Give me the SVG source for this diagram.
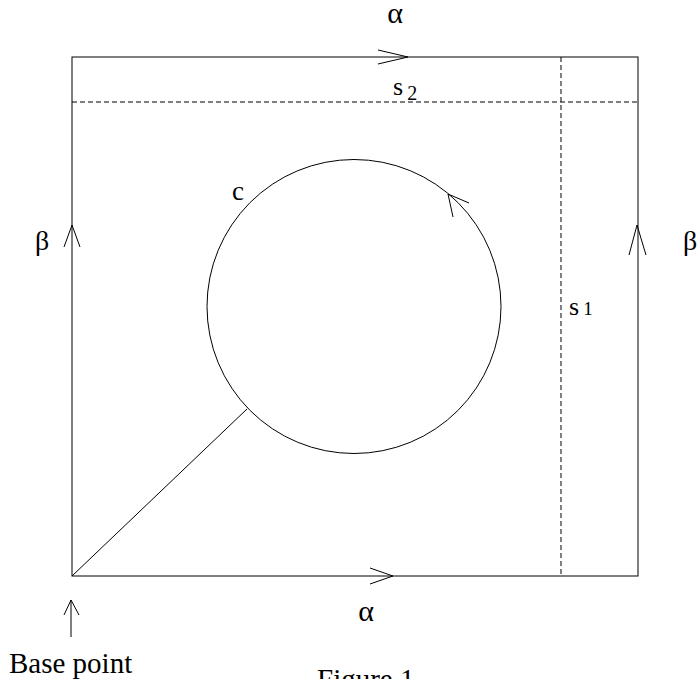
<svg xmlns="http://www.w3.org/2000/svg" width="699" height="679" viewBox="0 0 699 679">
<style>
.ln{fill:none;stroke:#000;stroke-width:1}
.ds{fill:none;stroke:#000;stroke-width:1;stroke-dasharray:5 3}
.t{font-family:"Liberation Serif","Times New Roman",serif;fill:#000}
</style>
<rect width="699" height="679" fill="#fff"/>
<g id="square">
<rect class="ln" x="72" y="57" width="566" height="519"/>
</g>
<g id="s2">
<line class="ds" x1="72" y1="102" x2="638" y2="102"/>
<text class="t" x="393" y="95" font-size="26">s<tspan font-size="20" dx="4" dy="5">2</tspan></text>
</g>
<g id="s1">
<line class="ds" x1="561" y1="57" x2="561" y2="576"/>
<text class="t" x="569" y="315" font-size="26">s<tspan font-size="19" dx="4">1</tspan></text>
</g>
<g id="c">
<circle class="ln" cx="354" cy="306.5" r="147"/>
<text class="t" x="232" y="200" font-size="27">c</text>
</g>
<g id="connectors">
<line class="ln" x1="72" y1="576" x2="247" y2="409"/>
<polyline class="ln" points="378,50 408,57 378,64"/>
<polyline class="ln" points="370,568 393,576 370,584"/>
<polyline class="ln" points="64,247 72,225 80,247"/>
<polyline class="ln" points="629,255 637,225 646,255"/>
<polyline class="ln" points="469,203 448,194 453,217"/>
<line class="ln" x1="71" y1="600" x2="71" y2="637"/>
<polyline class="ln" points="64,615 71,600 79,615"/>
</g>
<g id="labels">
<text class="t" x="395" y="23" font-size="30" text-anchor="middle">α</text>
<text class="t" x="366" y="621" font-size="30" text-anchor="middle">α</text>
<text class="t" x="42" y="250" font-size="28" text-anchor="middle">β</text>
<text class="t" x="690" y="250" font-size="28" text-anchor="middle">β</text>
<text class="t" x="9" y="673" font-size="29">Base point</text>
<text class="t" x="317" y="689" font-size="29">Figure 1</text>
</g>
</svg>
